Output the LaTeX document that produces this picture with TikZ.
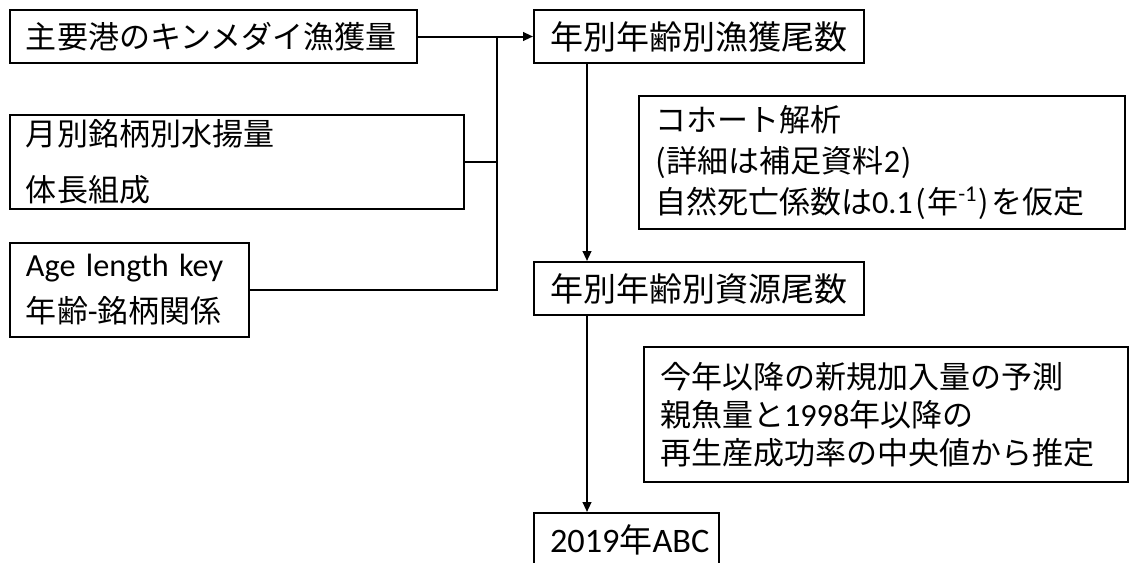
\documentclass[tikz,border=0pt]{standalone}
\usepackage{fontspec}
\setmainfont{Noto Sans CJK JP}
\newfontfamily\latn[Scale=1.04]{Carlito}
\newcommand\lpar{\kern2pt(\kern1pt}
\newcommand\rpar{\kern1pt)\kern2pt}
\usetikzlibrary{arrows.meta}

\tikzset{
  box/.style={draw, line width=1.5pt, align=left, inner xsep=12pt, inner ysep=0pt},
  flow/.style={line width=1.5pt, -{Triangle[length=7.5pt,width=6.5pt]}},
  link/.style={line width=1.5pt},
  big/.style={font=\fontsize{23.25pt}{#1}\selectfont},
  wide/.style={font=\fontsize{24.75pt}{30pt}\selectfont}
}

\begin{document}
\begin{tikzpicture}[x=0.75pt, y=-0.75pt]
        \useasboundingbox (0,0) rectangle (1130,562);
        \node[box, big=30pt, text width=281.25pt, minimum height=39.75pt] (catch) at (213.5,36.5) {主要港のキンメダイ漁獲量};
        \node[box, big=42pt, text width=316.5pt, minimum height=70.5pt] (landing) at (237,162) {月別銘柄別水揚量\\体長組成};
        \node[box, big=34.5pt, text width=155.25pt, minimum height=70.5pt] (alk) at (129.5,290) {{\latn Age length key}\\年齢{\latn -}銘柄関係};
        \node[box, wide, text width=223.5pt, minimum height=39.75pt] (caa) at (699,36.5) {年別年齢別漁獲尾数};
        \node[box, big=30.75pt, text width=340.5pt, minimum height=99.75pt] (cohort) at (882,162.5) {コホート解析\\(\kern1pt 詳細は補足資料{\latn 2}\rpar\\自然死亡係数は{\latn 0.1}\lpar 年{\latn\textsuperscript{-1}}\rpar を仮定};
        \node[box, wide, text width=223.5pt, minimum height=39.75pt] (naa) at (699,288.5) {年別年齢別資源尾数};
        \node[box, big=28.5pt, text width=339pt, minimum height=101.25pt] (recruit) at (886,414.5) {今年以降の新規加入量の予測\\親魚量と{\latn 1998}年以降の\\再生産成功率の中央値から推定};
        \node[box, wide, text width=114.75pt, minimum height=39.75pt] (abc) at (626.5,539.5) {{\latn 2019}年{\latn ABC}};
        \coordinate (jn) at (497,36.5);
        \coordinate (tr) at (587,0);
        \draw[flow] (catch) -- (caa);
        \draw[link] (landing) -- (landing -| jn);
        \draw[link] (alk) -| (jn);
        \draw[flow] (caa.south -| tr) -- (naa.north -| tr);
        \draw[flow] (naa.south -| tr) -- (abc.north -| tr);
      \end{tikzpicture}
\end{document}
